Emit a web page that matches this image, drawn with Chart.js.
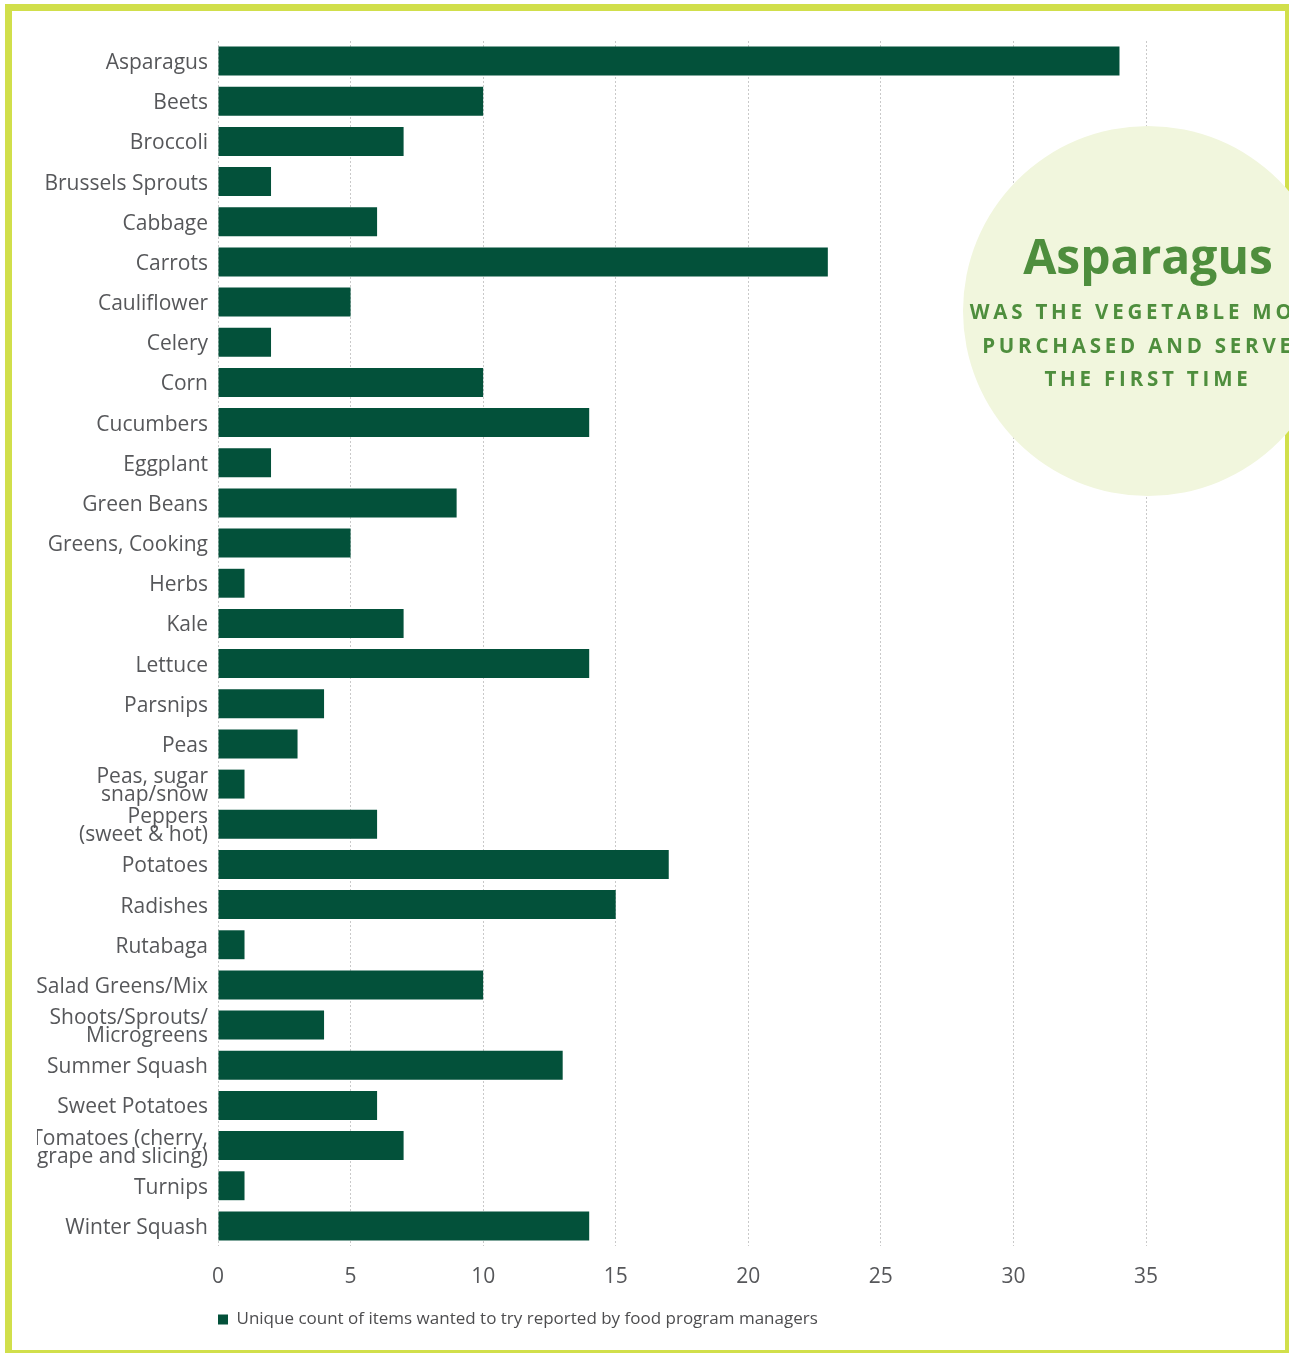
<!DOCTYPE html>
<html>
<head>
<meta charset="utf-8">
<script src="https://cdn.jsdelivr.net/npm/chart.js@4.4.1/dist/chart.umd.min.js"></script>
<style>
  html, body { margin: 0; padding: 0; background: #fff; overflow: hidden; }
  body { width: 1289px; height: 1353px; position: relative; }
  .frame {
    position: absolute; left: 5px; top: 4px; width: 1287px; height: 1353px;
    border: 7px solid #d1df4b; box-sizing: border-box;
  }
  .wrap { position: absolute; left: 37px; top: 0; width: 1252px; height: 1353px; }
  .bubble {
    position: absolute; left: 963px; top: 126px; width: 370px; height: 370px;
    border-radius: 50%; background: #f1f6dd; color: #4e8e3d;
    font-family: "Open Sans", sans-serif; text-align: center; white-space: nowrap;
  }
  .bubble .big { position: absolute; left: 0; right: 0; top: 106px; font-size: 48px; font-weight: 700; line-height: 1; }
  .bubble .small { position: absolute; left: -40px; right: -40px; top: 169px; font-size: 20.5px; font-weight: 700; letter-spacing: 3.8px; line-height: 33.5px; }
</style>
</head>
<body>
<div class="frame"></div>
<div class="wrap"><canvas id="vegChart"></canvas></div>
<div class="bubble">
  <div class="big">Asparagus</div>
  <div class="small">WAS THE VEGETABLE MOST<br>PURCHASED AND SERVED<br>THE FIRST TIME</div>
</div>
<script>
const vegetables = [
  'Asparagus', 'Beets', 'Broccoli', 'Brussels Sprouts', 'Cabbage', 'Carrots',
  'Cauliflower', 'Celery', 'Corn', 'Cucumbers', 'Eggplant', 'Green Beans',
  'Greens, Cooking', 'Herbs', 'Kale', 'Lettuce', 'Parsnips', 'Peas',
  ['Peas, sugar', 'snap/snow'], ['Peppers', '(sweet & hot)'], 'Potatoes', 'Radishes',
  'Rutabaga', 'Salad Greens/Mix', ['Shoots/Sprouts/', 'Microgreens'], 'Summer Squash',
  'Sweet Potatoes', ['Tomatoes (cherry,', 'grape and slicing)'], 'Turnips', 'Winter Squash'
];
const wantedCounts = [
  34, 10, 7, 2, 6, 23,
  5, 2, 10, 14, 2, 9,
  5, 1, 7, 14, 4, 3,
  1, 6, 17, 15,
  1, 10, 4, 13,
  6, 7, 1, 14
];
const seriesLabel = 'Unique count of items wanted to try reported by food program managers';
const axisMax = 35;
const axisStep = 5;

const textGray = '#56575a';
const barGreen = '#03513a';

new Chart(document.getElementById('vegChart'), {
  type: 'bar',
  data: {
    labels: vegetables,
    datasets: [{
      label: seriesLabel,
      data: wantedCounts,
      backgroundColor: barGreen,
      borderWidth: 0,
      barPercentage: 0.72,
      categoryPercentage: 1
    }]
  },
  options: {
    indexAxis: 'y',
    responsive: true,
    maintainAspectRatio: false,
    animation: false,
    layout: { padding: { top: 41, right: 143, bottom: 15, left: 0 } },
    plugins: {
      tooltip: { enabled: false },
      legend: {
        position: 'bottom',
        align: 'start',
        fullSize: false,
        labels: {
          boxWidth: 10,
          boxHeight: 10,
          padding: 0,
          color: '#4d4d4f',
          font: { family: 'Open Sans', size: 17 }
        }
      }
    },
    scales: {
      x: {
        min: 0,
        max: axisMax,
        ticks: {
          stepSize: axisStep,
          padding: 18,
          color: textGray,
          font: { family: 'Open Sans', size: 21, weight: 500 }
        },
        grid: { color: '#c9c9c9', lineWidth: 1, drawTicks: false },
        border: { display: false, dash: [2, 2] },
        afterFit: (scale) => { scale.height = 65; }
      },
      y: {
        ticks: {
          padding: 2,
          labelOffset: 2,
          color: textGray,
          autoSkip: false,
          font: { family: 'Open Sans', size: 21, weight: 500, lineHeight: 0.86 }
        },
        grid: { display: false },
        border: { display: false },
        afterFit: (scale) => { scale.width = 181; }
      }
    }
  }
});
</script>
</body>
</html>
